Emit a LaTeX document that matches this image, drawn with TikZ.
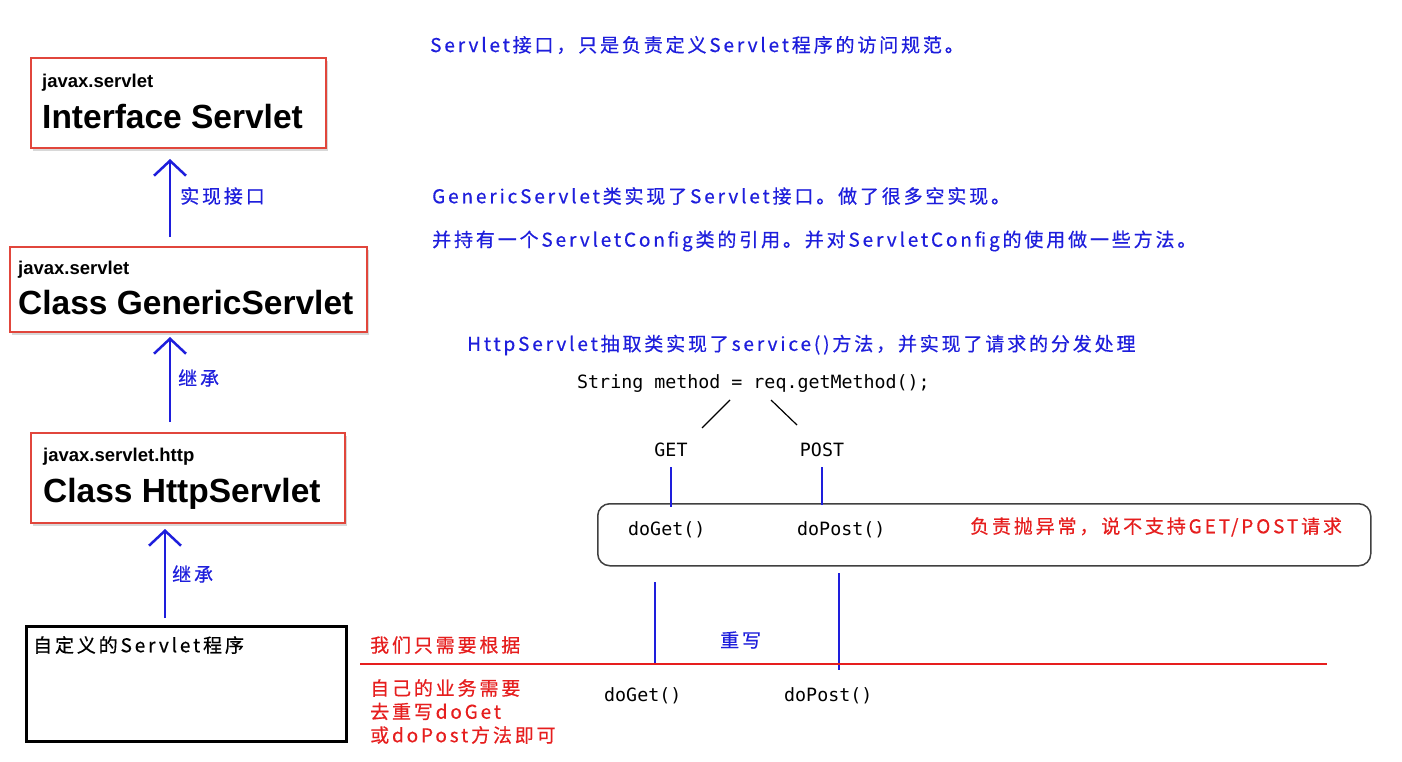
\documentclass[tikz,border=0pt]{standalone}
\usepackage{fontspec}
\setmainfont{Liberation Sans}
\setmonofont{DejaVu Sans Mono}
\newfontfamily\cjk[LetterSpace=15,FakeBold=0.5]{Noto Sans CJK SC}
\usetikzlibrary{arrows.meta,shadows}
\definecolor{boxred}{RGB}{225,70,60}
\definecolor{noteblue}{RGB}{30,30,220}
\definecolor{notered}{RGB}{230,30,30}
\tikzstyle{classbox}=[draw=boxred,line width=2pt,fill=white,anchor=north west,inner sep=0pt,drop shadow={shadow xshift=2pt,shadow yshift=-3pt,opacity=0.3}]
\tikzstyle{pkg}=[anchor=base west,inner sep=0pt,font=\bfseries\fontsize{18.5}{20}\selectfont]
\tikzstyle{cls}=[anchor=base west,inner sep=0pt,font=\bfseries\fontsize{33.5}{36}\selectfont]
\tikzstyle{extends}=[draw=noteblue,line width=2.5pt,-{Straight Barb[length=15pt,width=32pt]}]
\tikzstyle{note}=[anchor=west,inner sep=0pt,font=\cjk\fontsize{19}{23.5}\selectfont]
\tikzstyle{code}=[anchor=west,inner sep=0pt,font=\ttfamily\fontsize{18.3}{20}\selectfont]
\tikzstyle{wire}=[draw=noteblue,line width=1.2pt]

\begin{document}
\begin{tikzpicture}[x=1pt,y=-1pt]
\fill[white] (0,0) rectangle (1402,762);
\useasboundingbox (0,0) rectangle (1402,762);

\node[classbox,minimum width=295pt,minimum height=90pt] (iface) at (30,57) {};
\node[pkg] (ifacepkg) at (42,88) {javax.servlet};
\node[cls] (ifacename) at (42,129) {Interface Servlet};

\node[classbox,minimum width=357pt,minimum height=85pt] (gen) at (9,246) {};
\node[pkg] (genpkg) at (18,274) {javax.servlet};
\node[cls] (genname) at (18,314) {Class GenericServlet};

\node[classbox,minimum width=314pt,minimum height=90pt] (http) at (30,432) {};
\node[pkg] (httppkg) at (43,461) {javax.servlet.http};
\node[cls] (httpname) at (43,502) {Class HttpServlet};

\node[draw,line width=2.5pt,anchor=north west,inner sep=0pt,minimum width=320pt,minimum height=115pt] (mine) at (25,625) {};
\node[note] (minename) at (33,645) {自定义的Servlet程序};

\coordinate (upper) at (170,0);
\coordinate (lower) at (165,0);
\draw[extends,shorten <=9pt,shorten >=10pt] (gen.north -| upper) -- (iface.south -| upper);
\draw[extends,shorten <=10pt,shorten >=4pt] (http.north -| upper) -- (gen.south -| upper);
\draw[extends,shorten <=7pt,shorten >=5pt] (mine.north -| lower) -- (http.south -| lower);
\node[note,text=noteblue] (impl) at (180,196) {实现接口};
\node[note,text=noteblue] (inh1) at (178,378) {继承};
\node[note,text=noteblue] (inh2) at (172,574) {继承};

\node[note,text=noteblue] (ifacenote) at (430,45) {Servlet接口，只是负责定义Servlet程序的访问规范。};
\node[note,text=noteblue] (gennote) at (432,196) {GenericServlet类实现了Servlet接口。做了很多空实现。};
\node[note,text=noteblue] (confnote) at (432,241) {并持有一个ServletConfig类的引用。并对ServletConfig的使用做一些方法。};
\node[note,text=noteblue] (httpnote) at (467,345) {HttpServlet抽取类实现了service()方法，并实现了请求的分发处理};
\node[code] (method) at (577,384) {String method = req.getMethod();};

\coordinate (forkl) at (730,400);
\coordinate (forkr) at (771,400);
\node[code,anchor=center] (get) at (671,450) {GET};
\node[code,anchor=center] (post) at (822,450) {POST};
\draw[line width=1.2pt] (forkl) -- ++(-28,28);
\draw[line width=1.2pt] (forkr) -- ++(26,25);

\node[draw=black!75,line width=1.5pt,rounded corners=12pt,anchor=north west,inner sep=0pt,minimum width=773pt,minimum height=62pt] (disp) at (597,503) {};
\draw[noteblue,line width=2.5pt,shorten <=10pt,shorten >=-4pt] (get.south) -- (get.south |- disp.north);
\draw[noteblue,line width=2.5pt,shorten <=10pt,shorten >=-2pt] (post.south) -- (post.south |- disp.north);
\node[code] (doget) at (628,530) {doGet()};
\node[code] (dopost) at (797,530) {doPost()};
\node[note,text=notered] (err) at (970,527) {负责抛异常，说不支持GET/POST请求};

\coordinate (getwire) at (655,582);
\coordinate (postwire) at (839,573);
\draw[wire] (getwire) -- ++(0,83);
\draw[wire] (postwire) -- ++(0,97);
\node[note,text=noteblue] (override) at (720,640) {重写};

\coordinate (split) at (360,664);
\draw[notered,line width=1.2pt] (split) -- ++(967,0);
\node[note,text=notered] (hint) at (370,645) {我们只需要根据};
\node[note,text=notered,anchor=north west,align=left] (hint2) at (370,679) {自己的业务需要\\去重写doGet\\或doPost方法即可};
\node[code] (myget) at (604,696) {doGet()};
\node[code] (mypost) at (784,696) {doPost()};
\end{tikzpicture}
\end{document}
